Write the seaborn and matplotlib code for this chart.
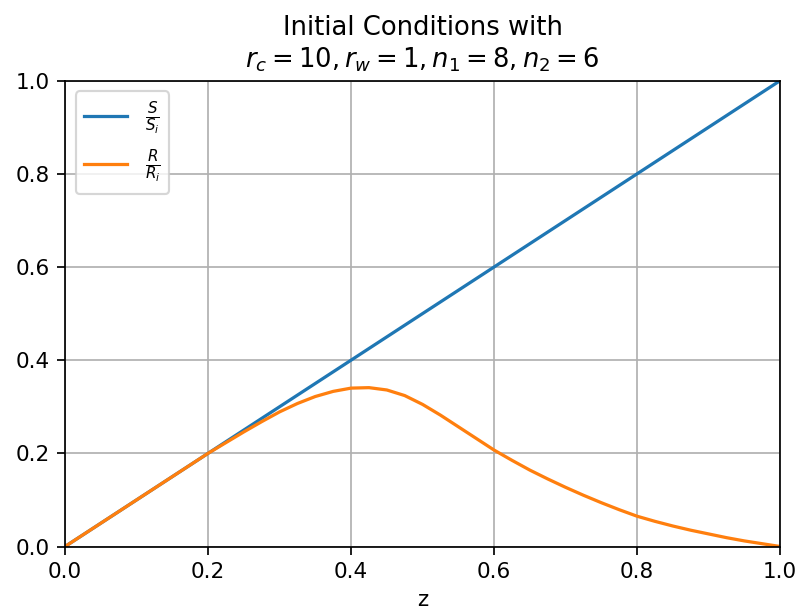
import matplotlib
matplotlib.use("Agg")
import matplotlib.pyplot as plt
import seaborn as sns
import pandas as pd

# Normalised profiles along z
z_s = [0.0, 0.2, 0.4, 0.6, 0.8, 1.0]
s_ratio = [0.0, 0.2, 0.4, 0.6, 0.8, 1.0]

z_r = [0.0, 0.05, 0.1, 0.15, 0.2, 0.225, 0.25, 0.275, 0.3, 0.325, 0.35,
       0.375, 0.4, 0.425, 0.45, 0.475, 0.5, 0.525, 0.55, 0.575, 0.6, 0.625,
       0.65, 0.675, 0.7, 0.725, 0.75, 0.775, 0.8, 0.825, 0.85, 0.875, 0.9,
       0.925, 0.95, 0.975, 1.0]
r_ratio = [0.0, 0.05, 0.1, 0.15, 0.2, 0.223, 0.246, 0.268, 0.289, 0.307,
           0.322, 0.333, 0.340, 0.341, 0.336, 0.324, 0.305, 0.282, 0.257,
           0.232, 0.207, 0.185, 0.164, 0.145, 0.127, 0.110, 0.094, 0.079,
           0.065, 0.054, 0.044, 0.035, 0.027, 0.019, 0.012, 0.006, 0.0]

s_label = r"$\frac{S}{S_i}$"
r_label = r"$\frac{R}{R_i}$"

df_s = pd.DataFrame({"z": z_s, "value": s_ratio})
df_r = pd.DataFrame({"z": z_r, "value": r_ratio})

DPI = 155
fig = plt.figure(figsize=(799 / DPI, 609 / DPI), dpi=DPI)
ax = fig.add_axes([0.0814, 0.1026, 0.895, 0.765])

sns.lineplot(data=df_s, x="z", y="value", ax=ax, color="#1f77b4",
             linewidth=1.5, label=s_label)
sns.lineplot(data=df_r, x="z", y="value", ax=ax, color="#ff7f0e",
             linewidth=1.5, label=r_label)

ax.set_xlim(0, 1)
ax.set_ylim(0, 1)
ax.set_xticks([0.0, 0.2, 0.4, 0.6, 0.8, 1.0])
ax.set_yticks([0.0, 0.2, 0.4, 0.6, 0.8, 1.0])
ax.grid(True)
ax.set_xlabel("z")
ax.set_ylabel("")
ax.set_title("Initial Conditions with\n$r_c=10, r_w=1, n_1=8, n_2=6$")
ax.legend(loc="upper left")

fig.savefig("out.png", dpi=DPI)
